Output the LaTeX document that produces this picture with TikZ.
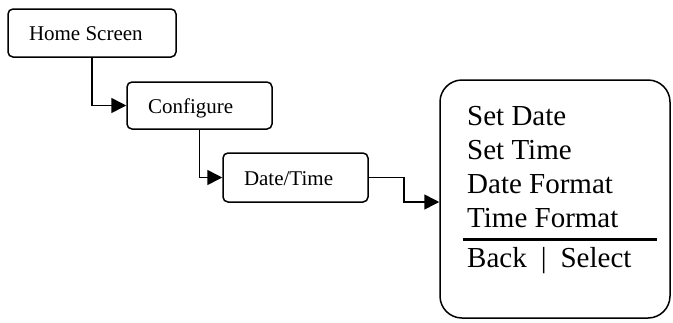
\documentclass[tikz,border=0pt]{standalone}
\usepackage{fontspec}
\setmainfont{Liberation Serif}
\usetikzlibrary{arrows.meta}
\begin{document}
\begin{tikzpicture}[x=1pt,y=-1pt,
  stepbox/.style={draw,line width=1.5pt,rounded corners=5pt,inner xsep=21pt,inner ysep=0pt,
    text height=16pt,text depth=1pt,font=\fontsize{21}{25}\selectfont},
  menubox/.style={draw,line width=1.5pt,rounded corners=22pt,inner sep=0pt},
  menutext/.style={anchor=base west,inner sep=0pt,font=\fontsize{29}{34}\selectfont},
  conn/.style={line width=1.5pt,-{Triangle[length=15pt,width=15pt]}}]
\useasboundingbox (0,0) rectangle (673,322);
\node[stepbox,minimum width=168pt,minimum height=48pt] (home) at (92,33) {\makebox[126pt][l]{Home Screen}};
\node[stepbox,minimum width=145pt,minimum height=47pt] (conf) at (199.5,105.5) {\makebox[103pt][l]{Configure}};
\node[stepbox,minimum width=145pt,minimum height=49pt] (dt) at (295.5,177.5) {\makebox[103pt][l]{Date/Time}};
\node[menubox,minimum width=230pt,minimum height=238pt] (menu) at (555,199) {};
\node[menutext] (t1) at (467,125) {Set Date};
\node[menutext] (t2) at (467,159) {Set Time};
\node[menutext] (t3) at (467,193) {Date Format};
\node[menutext] (t4) at (467,227) {Time Format};
\node[menutext] (t5) at (467,267) {Back\hspace{14pt}|\hspace{14pt}Select};
\coordinate (sepL) at (463,239);
\coordinate (sepR) at (657,239);
\draw[line width=3pt] (sepL) -- (sepR);
\coordinate (menuin) at (menu.west |- 0,202);
\draw[conn] (home.south) |- (conf.west);
\draw[conn] (conf.south) |- (dt.west);
\draw[conn] (dt.east) -- ++(35,0) |- (menuin);
\end{tikzpicture}
\end{document}
